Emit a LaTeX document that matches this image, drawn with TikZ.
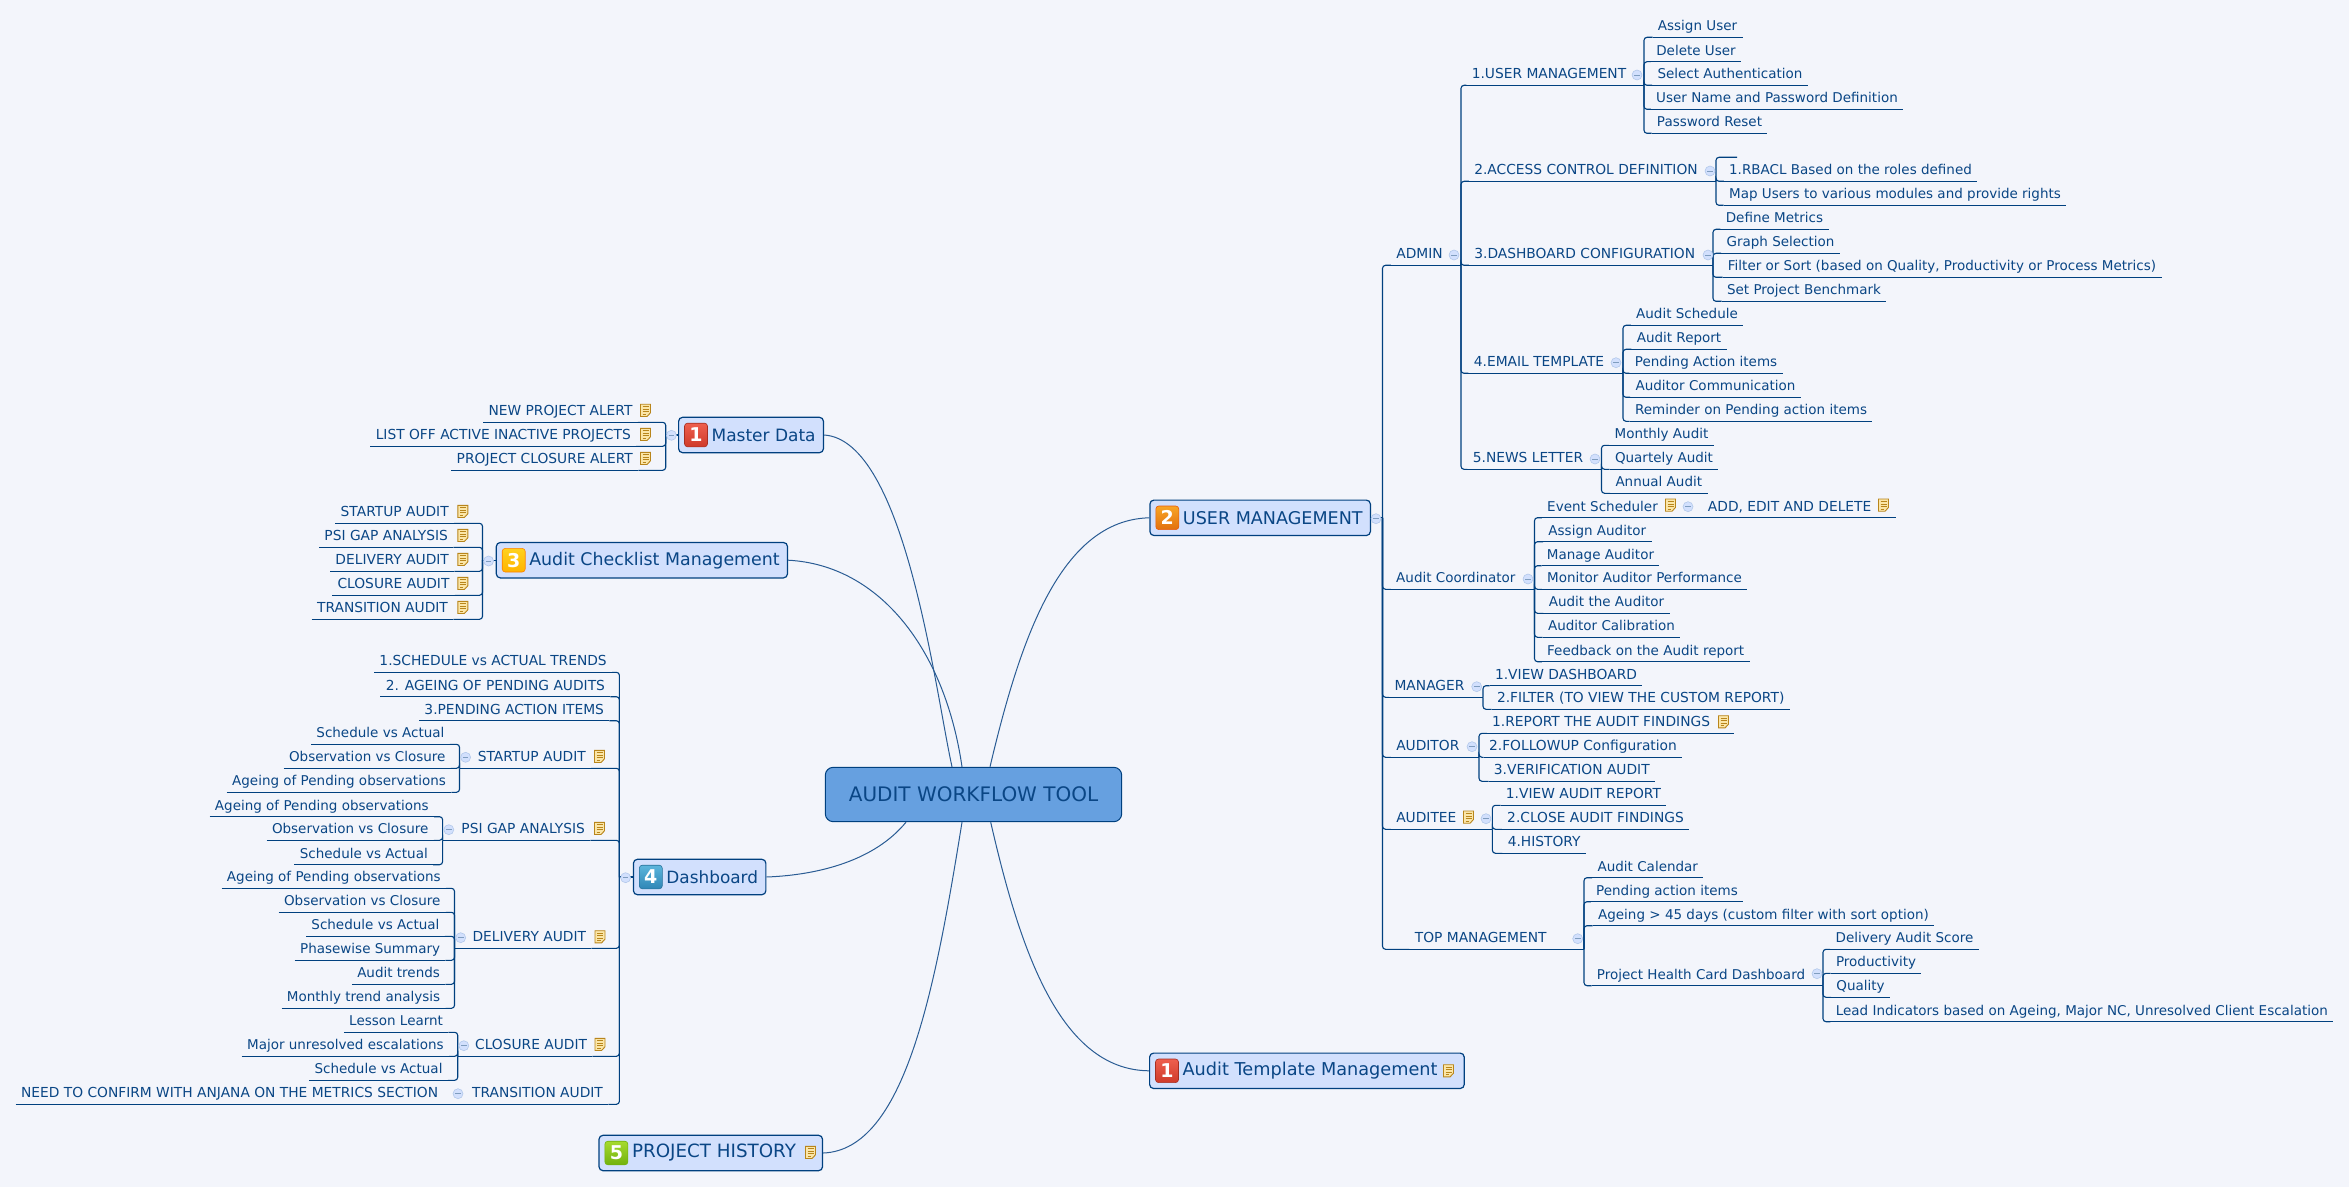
\documentclass[tikz,border=0pt]{standalone}
\usepackage{fontspec}
\setmainfont{DejaVu Sans}
\usetikzlibrary{positioning, calc}
\definecolor{pagebg}{HTML}{F3F5FB}
\definecolor{navyline}{HTML}{00407F}
\definecolor{curveline}{HTML}{2A5C94}
\definecolor{inktext}{HTML}{0A4685}
\definecolor{boxfill}{HTML}{D2E0FD}
\definecolor{rootfill}{HTML}{66A0E0}
\definecolor{notefill}{HTML}{FBE6A8}
\definecolor{noteline}{HTML}{B8851B}
\definecolor{redtop}{HTML}{EE5F4E}
\definecolor{redlow}{HTML}{CF3A2A}
\definecolor{orgtop}{HTML}{F8A526}
\definecolor{orglow}{HTML}{E2700E}
\definecolor{yeltop}{HTML}{FFD21E}
\definecolor{yellow2}{HTML}{FFB400}
\definecolor{blutop}{HTML}{5CB6DC}
\definecolor{blulow}{HTML}{2F86B6}
\definecolor{grntop}{HTML}{A6DA2E}
\definecolor{grnlow}{HTML}{72B20E}
\newcommand{\notegap}{\hspace*{9.4pt}}
\tikzstyle{branch} = [draw=navyline, line width=0.55pt, rounded corners=1.5pt]
\tikzstyle{curve} = [draw=curveline, line width=0.5pt]
\tikzstyle{leaf} = [anchor=south, text=inktext, font=\fontsize{6.75}{8}\selectfont, inner xsep=2.5pt, inner ysep=1pt, text height=5pt, text depth=2pt, append after command={(\tikzlastnode.south west) edge[branch] (\tikzlastnode.south east)}]
\tikzstyle{capleaf} = [leaf, font=\fontsize{6.9}{8}\selectfont]
\tikzstyle{topicbox} = [draw=navyline, line width=0.6pt, fill=boxfill, rounded corners=2pt, anchor=west, text=inktext, font=\fontsize{#1}{11}\selectfont, minimum height=17.7pt, inner xsep=3.9pt, inner ysep=0pt, execute at begin node={\hspace*{12.6pt}}]
\tikzstyle{rootbox} = [draw=navyline, line width=0.5pt, fill=rootfill, rounded corners=4pt, text=inktext, font=\fontsize{10}{12}\selectfont, minimum width=148.2pt, minimum height=27.2pt, inner sep=0pt]
\tikzstyle{badge} = [draw=#1, line width=0.3pt, rounded corners=1.5pt, minimum width=11.5pt, minimum height=11.8pt, inner sep=0pt, text=white, font=\fontsize{9.5}{11}\selectfont\bfseries]
\tikzstyle{fold} = [circle, draw=boxfill!85!navyline, fill=boxfill, line width=0.3pt, minimum size=5pt, inner sep=0pt, path picture={\draw[curveline!60, line width=0.3pt] ([xshift=-1.4pt]path picture bounding box.center) -- ([xshift=1.4pt]path picture bounding box.center);}]
\tikzset{notemark/.pic={
	\draw[draw=noteline, fill=notefill, line width=0.45pt] (-5,-6) -- (5,-6) -- (5,2.5) -- (1.5,6.2) -- (-5,6.2) -- cycle;
	\draw[draw=noteline, line width=0.35pt] (-3,-3.5) -- (3,-3.5) (-3,-1) -- (3,-1) (-3,1.5) -- (3,1.5) (-3,4) -- (0.5,4);
}}

\begin{document}
\begin{tikzpicture}[x=0.5pt, y=-0.5pt]
	\useasboundingbox[fill=pagebg] (0,0) rectangle (2349,1187);

	\node[rootbox] (ROOT) at (973.5,794.5) {AUDIT WORKFLOW TOOL};
	\node[topicbox=8.5] (MAS) at (678,435) {Master Data};
	\node[topicbox=8.7] (ACM) at (495.7,560.2) {Audit Checklist Management};
	\node[topicbox=8.45] (DSB) at (632.8,877) {Dashboard};
	\node[topicbox=8.78] (USM) at (1149.3,517.8) {USER MANAGEMENT};
	\node[topicbox=8.85] (ATM) at (1149,1070.8) {Audit Template Management\notegap};
	\node[topicbox=9.15] (PRH) at (598.4,1153) {PROJECT HISTORY\notegap};

	\node[badge=redlow!80!black, top color=redtop, bottom color=redlow, right=3.1pt of MAS.west] (bMAS) {1};
	\node[badge=orange, top color=yeltop, bottom color=yellow2, right=3.1pt of ACM.west] (bACM) {3};
	\node[badge=blulow!85!black, top color=blutop, bottom color=blulow, right=3.1pt of DSB.west] (bDSB) {4};
	\node[badge=orglow!80!red, top color=orgtop, bottom color=orglow, right=3.1pt of USM.west] (bUSM) {2};
	\node[badge=redlow!80!black, top color=redtop, bottom color=redlow, right=3.1pt of ATM.west] (bATM) {1};
	\node[badge=grnlow, top color=grntop, bottom color=grnlow, right=3.1pt of PRH.west] (bPRH) {5};

	\draw[curve] (MAS.east) .. controls (905,440) and (935,690) .. ([xshift=-10.75pt]ROOT.north);
	\draw[curve] (ACM.east) .. controls (880,565) and (945,650) .. ([xshift=-5.75pt]ROOT.north);
	\draw[curve] (USM.west) .. controls (1060,520) and (1020,640) .. ([xshift=8.25pt]ROOT.north);
	\draw[curve] (DSB.east) .. controls (820,875) and (875,860) .. ([xshift=-33.75pt]ROOT.south);
	\draw[curve] (ATM.west) .. controls (1060,1070) and (1020,950) .. ([xshift=8.6pt]ROOT.south);
	\draw[curve] (PRH.east) .. controls (905,1150) and (935,990) .. ([xshift=-5.75pt]ROOT.south);

	\coordinate (jUSM) at (1382.5,517.8);
	\coordinate (jADM) at (1461,265.3);
	\coordinate (jUMN) at (1644,85.3);
	\coordinate (jACD) at (1716,181.3);
	\coordinate (jDSC) at (1713,265.3);
	\coordinate (jEMT) at (1623,373.3);
	\coordinate (jNWL) at (1601.5,469.3);
	\coordinate (jCOO) at (1534.5,589.3);
	\coordinate (jMGR) at (1483,697.3);
	\coordinate (jAUD) at (1479,757.3);
	\coordinate (jADT) at (1492.4,829.3);
	\coordinate (jTOP) at (1584,949.3);
	\coordinate (jPHC) at (1823,985.7);
	\coordinate (jMAS) at (665.7,435);
	\coordinate (jACM) at (482.5,560.2);
	\coordinate (jDSB) at (619.4,877);
	\coordinate (jSUD) at (459.5,768.3);
	\coordinate (jPGA) at (442.6,840.3);
	\coordinate (jDUD) at (454.5,948.3);
	\coordinate (jCUD) at (457.7,1056.3);
	\coordinate (stub) at (1737,157.3);

	\node[capleaf] (ADM) at (1419.5,265.3) {ADMIN};
	\node[leaf] (COO) at (1455.8,589.3) {Audit Coordinator};
	\node[capleaf] (MGR) at (1429.5,697.3) {MANAGER};
	\node[capleaf] (AUD) at (1427.8,757.3) {AUDITOR};
	\node[capleaf] (ADT) at (1426.3,829.3) {AUDITEE};
	\node[capleaf] (TOP) at (1480.7,949.3) {TOP MANAGEMENT};

	\node[capleaf] (UMN) at (1549,85.3) {1.USER MANAGEMENT};
	\node[capleaf] (ACD) at (1586,181.3) {2.ACCESS CONTROL DEFINITION};
	\node[capleaf] (DSC) at (1584.7,265.3) {3.DASHBOARD CONFIGURATION};
	\node[capleaf] (EMT) at (1539,373.3) {4.EMAIL TEMPLATE};
	\node[capleaf] (NWL) at (1528,469.3) {5.NEWS LETTER};

	\node[leaf] (ASU) at (1697.5,37.3) {Assign User};
	\node[leaf] (DLU) at (1696,61.7) {Delete User};
	\node[leaf] (SLA) at (1730,85.3) {Select Authentication};
	\node[leaf] (UPD) at (1777,109.3) {User Name and Password Definition};
	\node[leaf] (PWR) at (1709.5,133.3) {Password Reset};

	\node[leaf] (RBA) at (1850.5,181.3) {1.RBACL Based on the roles defined};
	\node[leaf] (MPU) at (1895,205.3) {Map Users to various modules and provide rights};

	\node[leaf] (DFM) at (1774.5,229.3) {Define Metrics};
	\node[leaf] (GRS) at (1780.5,253.3) {Graph Selection};
	\node[leaf] (FLS) at (1942,277.3) {Filter or Sort (based on Quality, Productivity or Process Metrics)};
	\node[leaf] (SPB) at (1804,301.3) {Set Project Benchmark};

	\node[leaf] (AUS) at (1687,325.3) {Audit Schedule};
	\node[leaf] (AUR) at (1679,349.3) {Audit Report};
	\node[leaf] (PAI) at (1706,373.3) {Pending Action items};
	\node[leaf] (AUC) at (1715.5,397.3) {Auditor Communication};
	\node[leaf] (RPA) at (1751,421.3) {Reminder on Pending action items};

	\node[leaf] (MTA) at (1661.5,445.3) {Monthly Audit};
	\node[leaf] (QTA) at (1664,469.3) {Quartely Audit};
	\node[leaf] (ANA) at (1658.8,493.3) {Annual Audit};

	\node[leaf] (EVS) at (1602.5,517.7) {Event Scheduler};
	\node[capleaf] (ADD) at (1799,517.7) {ADD, EDIT AND DELETE\notegap};
	\node[leaf] (ASA) at (1597.3,541.7) {Assign Auditor};
	\node[leaf] (MNA) at (1600.5,565.7) {Manage Auditor};
	\node[leaf] (MAP) at (1644.5,589.3) {Monitor Auditor Performance};
	\node[leaf] (ATA) at (1606.5,613.3) {Audit the Auditor};
	\node[leaf] (ACB) at (1611.5,637.3) {Auditor Calibration};
	\node[leaf] (FBA) at (1645.7,661.7) {Feedback on the Audit report};

	\node[capleaf] (VDB) at (1566,685.7) {1.VIEW DASHBOARD};
	\node[capleaf] (FLT) at (1640.7,709.3) {2.FILTER (TO VIEW THE CUSTOM REPORT)};

	\node[capleaf] (RAF) at (1610.5,733.3) {1.REPORT THE AUDIT FINDINGS\notegap};
	\node[capleaf] (FCF) at (1583,757.3) {2.FOLLOWUP Configuration};
	\node[capleaf] (VAU) at (1571.8,781.3) {3.VERIFICATION AUDIT};

	\node[capleaf] (VAR) at (1583.4,805.3) {1.VIEW AUDIT REPORT};
	\node[capleaf] (CAF) at (1595.5,829.3) {2.CLOSE AUDIT FINDINGS};
	\node[capleaf] (HIS) at (1544.2,853.3) {4.HISTORY};

	\node[leaf] (ACL) at (1647.8,877.7) {Audit Calendar};
	\node[leaf] (PAS) at (1667,901.7) {Pending action items};
	\node[leaf] (AGE) at (1763.5,925.7) {Ageing > 45 days (custom filter with sort option)};
	\node[leaf] (PHC) at (1701,985.7) {Project Health Card Dashboard};

	\node[leaf] (DAU) at (1904.5,949.3) {Delivery Audit Score};
	\node[leaf] (PRD) at (1876,973.3) {Productivity};
	\node[leaf] (QLT) at (1860.5,997.3) {Quality};
	\node[leaf] (LDI) at (2081.8,1021.7) {Lead Indicators based on Ageing, Major NC, Unresolved Client Escalation};

	\draw[branch] (USM.east) -- (jUSM);
	\draw[branch] (jUSM) |- (ADM.south west);
	\draw[branch] (jUSM) |- (COO.south west);
	\draw[branch] (jUSM) |- (MGR.south west);
	\draw[branch] (jUSM) |- (AUD.south west);
	\draw[branch] (jUSM) |- (ADT.south west);
	\draw[branch] (jUSM) |- (TOP.south west);

	\draw[branch] (ADM.south east) -- (jADM);
	\draw[branch] (jADM) |- (UMN.south west);
	\draw[branch] (jADM) |- (ACD.south west);
	\draw[branch] (jADM) |- (DSC.south west);
	\draw[branch] (jADM) |- (EMT.south west);
	\draw[branch] (jADM) |- (NWL.south west);

	\draw[branch] (UMN.south east) -- (jUMN);
	\draw[branch] (jUMN) |- (ASU.south west);
	\draw[branch] (jUMN) |- (DLU.south west);
	\draw[branch] (jUMN) |- (SLA.south west);
	\draw[branch] (jUMN) |- (UPD.south west);
	\draw[branch] (jUMN) |- (PWR.south west);

	\draw[branch] (ACD.south east) -- (jACD);
	\draw[branch] (jACD) |- (stub);
	\draw[branch] (jACD) |- (RBA.south west);
	\draw[branch] (jACD) |- (MPU.south west);

	\draw[branch] (DSC.south east) -- (jDSC);
	\draw[branch] (jDSC) |- (DFM.south west);
	\draw[branch] (jDSC) |- (GRS.south west);
	\draw[branch] (jDSC) |- (FLS.south west);
	\draw[branch] (jDSC) |- (SPB.south west);

	\draw[branch] (EMT.south east) -- (jEMT);
	\draw[branch] (jEMT) |- (AUS.south west);
	\draw[branch] (jEMT) |- (AUR.south west);
	\draw[branch] (jEMT) |- (PAI.south west);
	\draw[branch] (jEMT) |- (AUC.south west);
	\draw[branch] (jEMT) |- (RPA.south west);

	\draw[branch] (NWL.south east) -- (jNWL);
	\draw[branch] (jNWL) |- (MTA.south west);
	\draw[branch] (jNWL) |- (QTA.south west);
	\draw[branch] (jNWL) |- (ANA.south west);

	\draw[branch] (COO.south east) -- (jCOO);
	\draw[branch] (jCOO) |- (EVS.south west);
	\draw[branch] (EVS.south east) -- (ADD.south west);
	\draw[branch] (jCOO) |- (ASA.south west);
	\draw[branch] (jCOO) |- (MNA.south west);
	\draw[branch] (jCOO) |- (MAP.south west);
	\draw[branch] (jCOO) |- (ATA.south west);
	\draw[branch] (jCOO) |- (ACB.south west);
	\draw[branch] (jCOO) |- (FBA.south west);

	\draw[branch] (MGR.south east) -- (jMGR);
	\draw[branch] (jMGR) |- (VDB.south west);
	\draw[branch] (jMGR) |- (FLT.south west);

	\draw[branch] (AUD.south east) -- (jAUD);
	\draw[branch] (jAUD) |- (RAF.south west);
	\draw[branch] (jAUD) |- (FCF.south west);
	\draw[branch] (jAUD) |- (VAU.south west);

	\draw[branch] (ADT.south east) -- (jADT);
	\draw[branch] (jADT) |- (VAR.south west);
	\draw[branch] (jADT) |- (CAF.south west);
	\draw[branch] (jADT) |- (HIS.south west);

	\draw[branch] (TOP.south east) -- (jTOP);
	\draw[branch] (jTOP) |- (ACL.south west);
	\draw[branch] (jTOP) |- (PAS.south west);
	\draw[branch] (jTOP) |- (AGE.south west);
	\draw[branch] (jTOP) |- (PHC.south west);

	\draw[branch] (PHC.south east) -- (jPHC);
	\draw[branch] (jPHC) |- (DAU.south west);
	\draw[branch] (jPHC) |- (PRD.south west);
	\draw[branch] (jPHC) |- (QLT.south west);
	\draw[branch] (jPHC) |- (LDI.south west);

	\node[capleaf] (NPA) at (560.5,422.3) {NEW PROJECT ALERT};
	\node[capleaf] (LAI) at (503.3,446.3) {LIST OFF ACTIVE INACTIVE PROJECTS};
	\node[capleaf] (PCA) at (544.8,470.3) {PROJECT CLOSURE ALERT};

	\node[capleaf] (STA) at (394.7,523.3) {STARTUP AUDIT};
	\node[capleaf] (PSI) at (386.2,547.3) {PSI GAP ANALYSIS};
	\node[capleaf] (DLA) at (392.2,571.3) {DELIVERY AUDIT};
	\node[capleaf] (CLA) at (393.5,595.3) {CLOSURE AUDIT};
	\node[capleaf] (TRN) at (382.5,619.3) {TRANSITION AUDIT};

	\node[capleaf] (SAT) at (493.1,672.3) {1.SCHEDULE vs ACTUAL TRENDS};
	\node[capleaf] (APA) at (495.4,696.7) {2. AGEING OF PENDING AUDITS};
	\node[capleaf] (PAT) at (514.2,720.7) {3.PENDING ACTION ITEMS};
	\node[capleaf] (SUD) at (531.8,768.3) {STARTUP AUDIT};
	\node[capleaf] (PGA) at (523.2,840.3) {PSI GAP ANALYSIS};
	\node[capleaf] (DUD) at (529.3,948.3) {DELIVERY AUDIT};
	\node[capleaf] (CUD) at (531.1,1056.3) {CLOSURE AUDIT};
	\node[capleaf] (TUD) at (537.5,1104.3) {TRANSITION AUDIT};

	\node[leaf] (SC1) at (380.4,744.3) {Schedule vs Actual};
	\node[leaf] (OC1) at (367.3,768.3) {Observation vs Closure};
	\node[leaf] (AG1) at (339,792.3) {Ageing of Pending observations};

	\node[leaf] (AG2) at (321.8,816.7) {Ageing of Pending observations};
	\node[leaf] (OC2) at (350.2,840.3) {Observation vs Closure};
	\node[leaf] (SC2) at (363.8,864.7) {Schedule vs Actual};

	\node[leaf] (AG3) at (333.8,888.3) {Ageing of Pending observations};
	\node[leaf] (OC3) at (362.3,912.3) {Observation vs Closure};
	\node[leaf] (SC3) at (375.4,936.3) {Schedule vs Actual};
	\node[leaf] (PHS) at (370.1,960.3) {Phasewise Summary};
	\node[leaf] (ATR) at (398.6,984.3) {Audit trends};
	\node[leaf] (MTR) at (363.6,1008.3) {Monthly trend analysis};

	\node[leaf] (LSL) at (396.1,1032.3) {Lesson Learnt};
	\node[leaf] (MJE) at (345.4,1056.3) {Major unresolved escalations};
	\node[leaf] (SC4) at (378.5,1080.3) {Schedule vs Actual};

	\node[capleaf] (NED) at (229.6,1104.3) {NEED TO CONFIRM WITH ANJANA ON THE METRICS SECTION};

	\draw[branch] (MAS.west) -- (jMAS);
	\draw[branch] (jMAS) |- (NPA.south east);
	\draw[branch] (jMAS) |- (LAI.south east);
	\draw[branch] (jMAS) |- (PCA.south east);

	\draw[branch] (ACM.west) -- (jACM);
	\draw[branch] (jACM) |- (STA.south east);
	\draw[branch] (jACM) |- (PSI.south east);
	\draw[branch] (jACM) |- (DLA.south east);
	\draw[branch] (jACM) |- (CLA.south east);
	\draw[branch] (jACM) |- (TRN.south east);

	\draw[branch] (DSB.west) -- (jDSB);
	\draw[branch] (jDSB) |- (SAT.south east);
	\draw[branch] (jDSB) |- (APA.south east);
	\draw[branch] (jDSB) |- (PAT.south east);
	\draw[branch] (jDSB) |- (SUD.south east);
	\draw[branch] (jDSB) |- (PGA.south east);
	\draw[branch] (jDSB) |- (DUD.south east);
	\draw[branch] (jDSB) |- (CUD.south east);
	\draw[branch] (jDSB) |- (TUD.south east);

	\draw[branch] (SUD.south west) -- (jSUD);
	\draw[branch] (jSUD) |- (SC1.south east);
	\draw[branch] (jSUD) |- (OC1.south east);
	\draw[branch] (jSUD) |- (AG1.south east);

	\draw[branch] (PGA.south west) -- (jPGA);
	\draw[branch] (jPGA) |- (AG2.south east);
	\draw[branch] (jPGA) |- (OC2.south east);
	\draw[branch] (jPGA) |- (SC2.south east);

	\draw[branch] (DUD.south west) -- (jDUD);
	\draw[branch] (jDUD) |- (AG3.south east);
	\draw[branch] (jDUD) |- (OC3.south east);
	\draw[branch] (jDUD) |- (SC3.south east);
	\draw[branch] (jDUD) |- (PHS.south east);
	\draw[branch] (jDUD) |- (ATR.south east);
	\draw[branch] (jDUD) |- (MTR.south east);

	\draw[branch] (CUD.south west) -- (jCUD);
	\draw[branch] (jCUD) |- (LSL.south east);
	\draw[branch] (jCUD) |- (MJE.south east);
	\draw[branch] (jCUD) |- (SC4.south east);

	\draw[branch] (TUD.south west) -- (NED.south east);

	\node[fold] (fUSM) at (1376,518.7) {};
	\node[fold] (fADM) at (1454,255) {};
	\node[fold] (fUMN) at (1637,75) {};
	\node[fold] (fACD) at (1710,171) {};
	\node[fold] (fDSC) at (1708,255) {};
	\node[fold] (fEMT) at (1616,362.7) {};
	\node[fold] (fNWL) at (1595,459) {};
	\node[fold] (fCOO) at (1528,579) {};
	\node[fold] (fEVS) at (1688,506.7) {};
	\node[fold] (fMGR) at (1476.7,686.7) {};
	\node[fold] (fAUD) at (1472,746.7) {};
	\node[fold] (fADT) at (1486,818.7) {};
	\node[fold] (fTOP) at (1577.7,938.7) {};
	\node[fold] (fPHC) at (1817,973.7) {};
	\node[fold] (fMAS) at (671.4,435.3) {};
	\node[fold] (fACM) at (488.6,561) {};
	\node[fold] (fDSB) at (625.6,877.7) {};
	\node[fold] (fSUD) at (465.6,757.3) {};
	\node[fold] (fPGA) at (448.8,829.7) {};
	\node[fold] (fDUD) at (460.7,937.7) {};
	\node[fold] (fCUD) at (463.8,1045.7) {};
	\node[fold] (fTUD) at (458,1093.7) {};

	\pic at (1670.5,505) {notemark};
	\pic at (1883.5,505) {notemark};
	\pic at (1723.5,721.7) {notemark};
	\pic at (1468.5,817) {notemark};
	\pic at (645.5,410.3) {notemark};
	\pic at (645.5,434.3) {notemark};
	\pic at (645.5,458.3) {notemark};
	\pic at (462.8,511.3) {notemark};
	\pic at (462.8,535.3) {notemark};
	\pic at (462.8,559.3) {notemark};
	\pic at (462.8,583.3) {notemark};
	\pic at (462.8,607.3) {notemark};
	\pic at (599.5,756.3) {notemark};
	\pic at (599.5,828.3) {notemark};
	\pic at (600,936.7) {notemark};
	\pic at (600,1044.3) {notemark};
	\pic at (1448.5,1070.7) {notemark};
	\pic at (810.5,1152.3) {notemark};
\end{tikzpicture}
\end{document}
